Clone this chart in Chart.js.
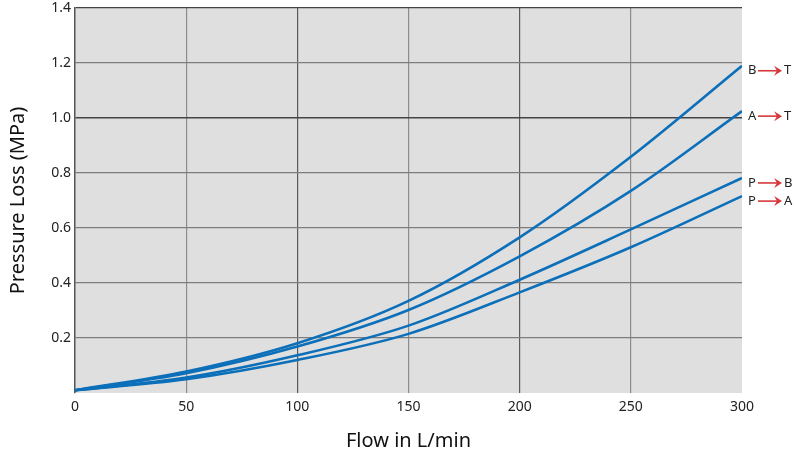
<!DOCTYPE html>
<html>
<head>
<meta charset="utf-8">
<script src="https://cdn.jsdelivr.net/npm/chart.js@4/dist/chart.umd.min.js"></script>
<style>
  html, body { margin: 0; padding: 0; background: #fff; }
  #wrap { width: 794px; height: 459px; }
</style>
</head>
<body>
<div id="wrap"><canvas id="lossChart" width="794" height="459"></canvas></div>
<script>
// --- Data ---
const flow = [0, 50, 100, 150, 200, 250, 300];
const lossBT = [0.01, 0.078, 0.181, 0.335, 0.566, 0.859, 1.19];
const lossAT = [0.01, 0.072, 0.169, 0.302, 0.497, 0.735, 1.025];
const lossPB = [0.01, 0.056, 0.137, 0.245, 0.412, 0.595, 0.782];
const lossPA = [0.01, 0.050, 0.120, 0.215, 0.366, 0.530, 0.716];
const seriesFrom = ['B', 'A', 'P', 'P'];
const seriesTo = ['T', 'T', 'B', 'A'];
const yTicks = [0.2, 0.4, 0.6, 0.8, 1.0, 1.2, 1.4];

const FONT = '"Noto Sans", sans-serif';
const BLUE = '#0c6fb9';

const toPoints = vals => vals.map((v, i) => ({ x: flow[i], y: v }));

// gray plot background
const plotBackground = {
    id: 'plotBackground',
    beforeDraw(chart) {
        const { ctx, chartArea: a } = chart;
        ctx.save();
        ctx.fillStyle = '#dfdfdf';
        ctx.fillRect(a.left, a.top, a.right - a.left, a.bottom - a.top);
        ctx.restore();
    }
};

// "B -> T" style labels next to each curve end
const endLabels = {
    id: 'endLabels',
    afterDatasetsDraw(chart) {
        const { ctx, chartArea } = chart;
        ctx.save();
        ctx.font = '13px ' + FONT;
        ctx.textBaseline = 'middle';
        chart.data.datasets.forEach((ds, i) => {
            const meta = chart.getDatasetMeta(i);
            const pt = meta.data[meta.data.length - 1];
            const x = chartArea.right + 6;
            const y = pt.y + 5;
            ctx.fillStyle = '#222';
            ctx.textAlign = 'left';
            ctx.fillText(seriesFrom[i], x, y);
            // red arrow
            const ax0 = x + 10, ax1 = x + 34;
            ctx.strokeStyle = '#d6383a';
            ctx.fillStyle = '#d6383a';
            ctx.lineWidth = 1.6;
            ctx.beginPath();
            ctx.moveTo(ax0, y);
            ctx.lineTo(ax1 - 4, y);
            ctx.stroke();
            ctx.beginPath();
            ctx.moveTo(ax1, y);
            ctx.lineTo(ax1 - 8, y - 5);
            ctx.lineTo(ax1 - 5, y);
            ctx.lineTo(ax1 - 8, y + 5);
            ctx.closePath();
            ctx.fill();
            ctx.fillStyle = '#222';
            ctx.fillText(seriesTo[i], x + 36, y);
        });
        ctx.restore();
    }
};

const lineStyle = {
    borderColor: BLUE,
    borderWidth: 2.6,
    pointRadius: 0,
    fill: false,
    cubicInterpolationMode: 'monotone'
};

new Chart(document.getElementById('lossChart'), {
    type: 'line',
    data: {
        datasets: [
            { label: 'B-T', data: toPoints(lossBT), ...lineStyle },
            { label: 'A-T', data: toPoints(lossAT), ...lineStyle },
            { label: 'P-B', data: toPoints(lossPB), ...lineStyle },
            { label: 'P-A', data: toPoints(lossPA), ...lineStyle }
        ]
    },
    options: {
        responsive: false,
        animation: false,
        layout: { padding: { top: 8, right: 52, left: 0, bottom: 0 } },
        plugins: {
            legend: { display: false },
            tooltip: { enabled: false }
        },
        scales: {
            x: {
                type: 'linear',
                min: 0,
                max: 300,
                afterFit: s => { s.height = 66; s.paddingLeft = 0; s.paddingRight = 0; },
                ticks: {
                    stepSize: 50,
                    padding: 6,
                    color: '#222',
                    font: { family: FONT, size: 14 }
                },
                grid: {
                    drawTicks: false,
                    lineWidth: 1.2,
                    color: c => {
                        const v = c.tick ? c.tick.value : null;
                        if (v === 0 || v === 300) return 'rgba(0,0,0,0)';
                        return (v === 100 || v === 200) ? '#5a5a5a' : '#8c8c8c';
                    }
                },
                border: { display: false },
                title: {
                    display: true,
                    text: 'Flow in L/min',
                    color: '#111',
                    font: { family: FONT, size: 20 },
                    padding: { top: 0, bottom: 6 }
                }
            },
            y: {
                min: 0,
                max: 1.4,
                afterFit: s => { s.width = 75; s.paddingTop = 0; s.paddingBottom = 0; },
                afterBuildTicks: s => {
                    s.ticks = [0].concat(yTicks).map(v => ({ value: v }));
                },
                ticks: {
                    padding: 4,
                    color: '#222',
                    font: { family: FONT, size: 14 },
                    callback: v => (v === 0 ? '' : v.toFixed(1))
                },
                grid: {
                    drawTicks: false,
                    lineWidth: c => (c.tick && Math.abs(c.tick.value - 1.0) < 1e-6 ? 1.6 : 1.2),
                    color: c => {
                        const v = c.tick ? c.tick.value : null;
                        if (v === 0) return 'rgba(0,0,0,0)';
                        if (Math.abs(v - 1.0) < 1e-6 || Math.abs(v - 1.4) < 1e-6) return '#444';
                        return '#7d7d7d';
                    }
                },
                border: { display: true, color: '#555', width: 1.5 },
                title: {
                    display: true,
                    text: 'Pressure Loss (MPa)',
                    color: '#111',
                    font: { family: FONT, size: 20 },
                    padding: { top: 6, bottom: 0 }
                }
            }
        }
    },
    plugins: [plotBackground, endLabels]
});
</script>
</body>
</html>
